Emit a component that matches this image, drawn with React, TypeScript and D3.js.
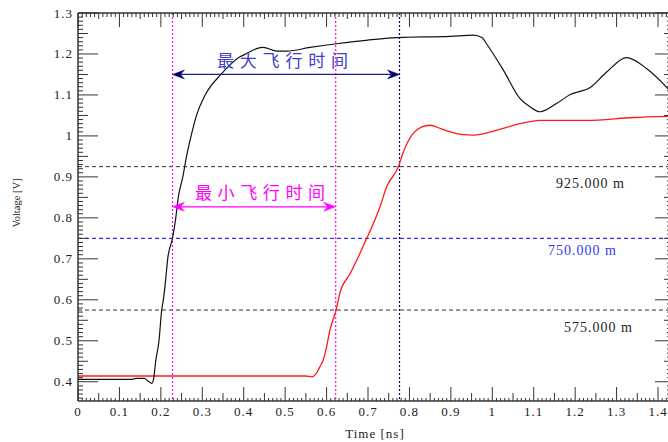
import React from "react";
import * as d3 from "d3";

const blackT = [0, 0.13, 0.14, 0.16, 0.17, 0.178, 0.183, 0.1875, 0.1955, 0.202, 0.206, 0.2117, 0.2165, 0.228, 0.236, 0.242, 0.253, 0.262, 0.273, 0.286, 0.307, 0.345, 0.391, 0.407, 0.431, 0.447, 0.48, 0.504, 0.56, 0.624, 0.7, 0.772, 0.898, 0.954, 0.975, 0.986, 1.027, 1.067, 1.091, 1.115, 1.155, 1.188, 1.236, 1.276, 1.324, 1.373, 1.429];
const blackV = [0.406, 0.406, 0.408, 0.408, 0.401, 0.396, 0.41, 0.45, 0.5, 0.575, 0.6, 0.65, 0.7, 0.75, 0.8, 0.85, 0.9, 0.95, 1.0, 1.05, 1.1, 1.15, 1.193, 1.201, 1.213, 1.216, 1.207, 1.207, 1.216, 1.225, 1.234, 1.24, 1.243, 1.246, 1.24, 1.225, 1.16, 1.091, 1.071, 1.059, 1.079, 1.101, 1.118, 1.156, 1.191, 1.164, 1.11];

const redT = [0, 0.55, 0.564, 0.575, 0.584, 0.592, 0.6, 0.608, 0.623, 0.632, 0.657, 0.697, 0.729, 0.745, 0.773, 0.785, 0.809, 0.83, 0.85, 0.875, 0.898, 0.93, 0.954, 1.011, 1.067, 1.115, 1.228, 1.34, 1.429];
const redV = [0.414, 0.414, 0.412, 0.42, 0.437, 0.453, 0.485, 0.526, 0.575, 0.616, 0.664, 0.75, 0.827, 0.876, 0.924, 0.96, 1.006, 1.022, 1.026, 1.018, 1.01, 1.003, 1.002, 1.014, 1.03, 1.038, 1.038, 1.045, 1.048];

const thresholds = [0.925, 0.75, 0.575];
const thresholdLabels = ["925.000 m", "750.000 m", "575.000 m"];
const xTickLabels = ["0", "0.1", "0.2", "0.3", "0.4", "0.5", "0.6", "0.7", "0.8", "0.9", "1", "1.1", "1.2", "1.3", "1.4"];
const yTickLabels = ["0.4", "0.5", "0.6", "0.7", "0.8", "0.9", "1", "1.1", "1.2", "1.3"];
const markerTimes = [0.228, 0.622, 0.776];
const maxFlightLabel = "最大飞行时间";
const minFlightLabel = "最小飞行时间";

const W = 668, H = 442;
const L = 78, R = 670, T = 13, B = 401;

export default function App() {
  const x = d3.scaleLinear().domain([0, 1.4289]).range([L, R]);
  const y = d3.scaleLinear().domain([0.353, 1.3]).range([B, T]);
  const line = d3.line<[number, number]>().x(d => x(d[0])).y(d => y(d[1])).curve(d3.curveMonotoneX);
  const blackPts = blackT.map((t, i) => [t, blackV[i]] as [number, number]);
  const redPts = redT.map((t, i) => [t, redV[i]] as [number, number]);

  const axisColor = "#333";
  const serif = "'Liberation Serif', 'Times New Roman', serif";
  const cjk = "'Noto Sans CJK SC', sans-serif";

  const xTicks = d3.range(0, 143);
  const yTicks = d3.range(36, 131);

  const arrowHead = (tipX: number, yy: number, dir: number, color: string) => {
    const len = 12, hw = 4.5, notch = 8;
    return (
      <path
        d={`M${tipX},${yy} L${tipX + dir * len},${yy - hw} L${tipX + dir * notch},${yy} L${tipX + dir * len},${yy + hw} Z`}
        fill={color}
        stroke={color}
        strokeWidth={0.5}
      />
    );
  };

  const blueY = y(1.15), magY = y(0.827);
  const x1 = x(markerTimes[0]), x2 = x(markerTimes[1]), x3 = x(markerTimes[2]);

  return (
    <svg width={W} height={H} style={{ position: "absolute", left: 0, top: 0, background: "#fff" }}>
      <rect x={0} y={0} width={W} height={H} fill="#fff" />
      {thresholds.map((v, i) => (
        <line key={"th" + i} x1={L} x2={R} y1={y(v)} y2={y(v)} stroke={i === 1 ? "#0000ff" : "#333"} strokeWidth={1} strokeDasharray="4,3" />
      ))}
      {markerTimes.map((t, i) => (
        <line key={"vm" + i} x1={x(t)} x2={x(t)} y1={T} y2={B} stroke={i === 2 ? "#000080" : "#ff00ff"} strokeWidth={1.2} strokeDasharray="2,2" />
      ))}
      <path d={line(redPts) || ""} fill="none" stroke="#ff1a1a" strokeWidth={1.3} />
      <path d={line(blackPts) || ""} fill="none" stroke="#111" strokeWidth={1.2} />

      <text x={556} y={y(0.925) + 21} fontFamily={serif} fontSize={14} fill="#222" textLength={68} lengthAdjust="spacing">{thresholdLabels[0]}</text>
      <text x={548} y={y(0.75) + 17} fontFamily={serif} fontSize={14} fill="#3333ff" textLength={68} lengthAdjust="spacing">{thresholdLabels[1]}</text>
      <text x={564} y={y(0.575) + 22} fontFamily={serif} fontSize={14} fill="#222" textLength={68} lengthAdjust="spacing">{thresholdLabels[2]}</text>

      <line x1={x1 + 8} x2={x3 - 8} y1={blueY} y2={blueY} stroke="#1c1c94" strokeWidth={1.3} />
      {arrowHead(x1, blueY, 1, "#000070")}
      {arrowHead(x3, blueY, -1, "#000070")}
      <text x={217} y={66.5} fontFamily={cjk} fontSize={17} fill="#4040cc" textLength={131} lengthAdjust="spacing">{maxFlightLabel}</text>

      <line x1={x1 + 8} x2={x2 - 8} y1={magY} y2={magY} stroke="#ff00ff" strokeWidth={1.3} />
      {arrowHead(x1, magY, 1, "#ff00ff")}
      {arrowHead(x2, magY, -1, "#ff00ff")}
      <text x={195} y={199} fontFamily={cjk} fontSize={17} fill="#ff00ff" textLength={130} lengthAdjust="spacing">{minFlightLabel}</text>

      <line x1={L} x2={R} y1={B} y2={B} stroke={axisColor} strokeWidth={1.5} />
      <line x1={L} x2={R} y1={T} y2={T} stroke={axisColor} strokeWidth={1.5} />
      <line x1={L} x2={L} y1={T} y2={B} stroke={axisColor} strokeWidth={1.5} />
      <line x1={R} x2={R} y1={T} y2={B} stroke={axisColor} strokeWidth={1.5} />

      {xTicks.map(i => {
        const xx = x(i / 100);
        const major = i % 10 === 0, mid = i % 5 === 0;
        const lb = major ? 14 : mid ? 8 : 3;
        const lt = major ? 14 : mid ? 6 : 4;
        return (
          <g key={"xt" + i}>
            <line x1={xx} x2={xx} y1={B} y2={B - lb} stroke={axisColor} strokeWidth={1} />
            <line x1={xx} x2={xx} y1={T} y2={T + lt} stroke={axisColor} strokeWidth={1} />
          </g>
        );
      })}
      {yTicks.map(i => {
        const yy = y(i / 100);
        const major = i % 10 === 0, mid = i % 5 === 0;
        const ll = major ? 20 : mid ? 10 : 5;
        const lr = major ? 15 : mid ? 6 : 3;
        return (
          <g key={"yt" + i}>
            <line x1={L} x2={L + ll} y1={yy} y2={yy} stroke={axisColor} strokeWidth={1} />
            <line x1={R} x2={R - lr} y1={yy} y2={yy} stroke={axisColor} strokeWidth={1} />
          </g>
        );
      })}

      {xTickLabels.map((s, i) => (
        <text key={"xl" + i} x={x(+s)} y={416} textAnchor="middle" fontFamily={serif} fontSize={13} letterSpacing={1} fill="#222">{s}</text>
      ))}
      {yTickLabels.map((s, i) => (
        <text key={"yl" + i} x={73} y={y(+s) + 4.5} textAnchor="end" fontFamily={serif} fontSize={13} letterSpacing={1} fill="#222">{s}</text>
      ))}

      <text x={375} y={438} textAnchor="middle" fontFamily={serif} fontSize={13} letterSpacing={1} fill="#222">Time [ns]</text>
      <text transform={`translate(20,203) rotate(-90)`} textAnchor="middle" fontFamily={serif} fontSize={10.5} fill="#222">Voltage [V]</text>
    </svg>
  );
}
